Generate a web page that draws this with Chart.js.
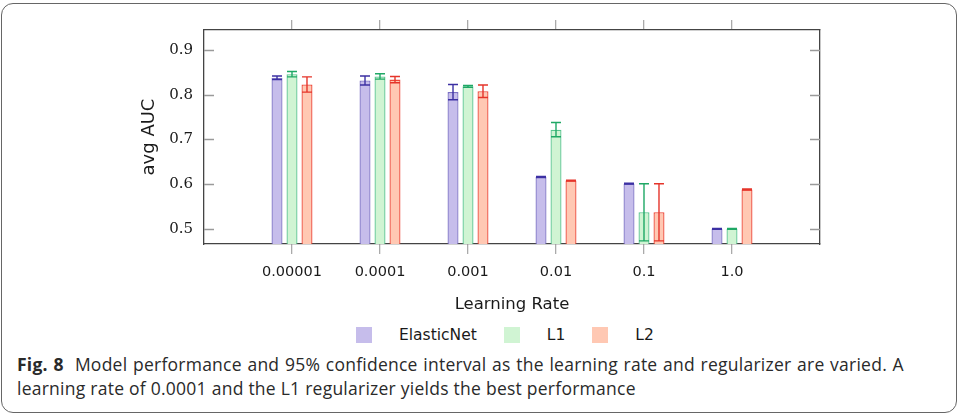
<!DOCTYPE html>
<html>
<head>
<meta charset="utf-8">
<script src="https://cdn.jsdelivr.net/npm/chart.js@4.4.0/dist/chart.umd.min.js"></script>
<style>
  html, body { margin: 0; padding: 0; background: #fff; }
  #wrap { position: relative; width: 959px; height: 414px; overflow: hidden; }
  #frame { position: absolute; left: 1px; top: 3px; width: 956px; height: 410px; box-sizing: border-box;
           border: 1.3px solid #666; border-radius: 12px; }
  #chart { position: absolute; left: 0; top: 0; }
  #legend { position: absolute; left: 356px; top: 326px; height: 18px; display: flex; align-items: center;
            font-family: "DejaVu Sans"; font-size: 15.5px; color: #1a1a1a; }
  #legend .box { width: 16px; height: 16px; display: inline-block; }
  #legend .txt { margin-left: 27px; margin-right: 27px; line-height: 18px; }
  #caption { position: absolute; left: 17px; top: 352px; width: 940px; font-family: "Open Sans";
             font-size: 17.5px; letter-spacing: 0.25px; line-height: 24.4px; color: #2a2a2a; white-space: nowrap; }
  #caption .l1 { word-spacing: 0.8px; }
</style>
</head>
<body>
<div id="wrap">
  <div id="frame"></div>
  <canvas id="chart" width="959" height="320"></canvas>
  <div id="legend"></div>
  <div id="caption"><span class="l1"><b>Fig. 8</b>&nbsp; Model performance and 95% confidence interval as the learning rate and regularizer are varied. A</span><br>learning rate of 0.0001 and the L1 regularizer yields the best performance</div>
</div>
<script>
const categories = ['0.00001', '0.0001', '0.001', '0.01', '0.1', '1.0'];
const seriesNames = ['ElasticNet', 'L1', 'L2'];
const elasticNet = [0.838, 0.832, 0.806, 0.616, 0.601, 0.500];
const elasticNetCI = [0.004, 0.010, 0.017, 0.001, 0.001, 0.001];
const l1 = [0.846, 0.841, 0.819, 0.722, 0.537, 0.500];
const l1CI = [0.006, 0.006, 0.002, 0.016, 0.064, 0.001];
const l2 = [0.823, 0.834, 0.808, 0.608, 0.537, 0.588];
const l2CI = [0.017, 0.007, 0.014, 0.001, 0.064, 0.001];
const yTicks = [0.5, 0.6, 0.7, 0.8, 0.9];

const fills = ['#c6bdeb', '#d0f4d3', '#ffc8b3'];
const borders = ['#7b70c4', '#58c48e', '#ee4738'];
const errColors = ['#3c30a3', '#1fa865', '#e5342a'];

const values = [elasticNet, l1, l2];
const cis = [elasticNetCI, l1CI, l2CI];

const datasets = values.map((vals, s) => ({
  label: seriesNames[s],
  data: vals.map((v, i) => ({ x: i, y: v })),
  ci: cis[s],
  backgroundColor: fills[s],
  borderColor: borders[s],
  borderWidth: 1.3,
  borderSkipped: 'start',
  errColor: errColors[s],
  xAxisID: 'x',
  yAxisID: 'y'
}));

const keepCats = (scale) => {
  scale.ticks = scale.ticks.filter(t => t.value >= 0 && t.value <= categories.length - 1);
};

const errorBars = {
  id: 'errorBars',
  afterDatasetsDraw(chart) {
    const ctx = chart.ctx;
    const ys = chart.scales.y;
    const area = chart.chartArea;
    ctx.save();
    ctx.beginPath();
    ctx.rect(area.left, area.top, area.right - area.left, area.bottom - area.top);
    ctx.clip();
    chart.data.datasets.forEach((ds, di) => {
      const meta = chart.getDatasetMeta(di);
      meta.data.forEach((bar, i) => {
        const v = ds.data[i].y, e = ds.ci[i];
        const yHi = ys.getPixelForValue(v + e);
        const yLo = ys.getPixelForValue(v - e);
        const half = bar.width / 2 - 0.5;
        ctx.strokeStyle = ds.errColor;
        ctx.lineWidth = 1.4;
        ctx.beginPath();
        ctx.moveTo(bar.x, yHi); ctx.lineTo(bar.x, yLo);
        ctx.moveTo(bar.x - half, yHi); ctx.lineTo(bar.x + half, yHi);
        ctx.moveTo(bar.x - half, yLo); ctx.lineTo(bar.x + half, yLo);
        ctx.stroke();
      });
    });
    ctx.restore();
  }
};

const innerTicks = {
  id: 'innerTicks',
  afterDraw(chart) {
    const ctx = chart.ctx;
    const ys = chart.scales.y;
    const a = chart.chartArea;
    ctx.save();
    ctx.strokeStyle = '#9a9a9a';
    ctx.lineWidth = 1.3;
    ys.ticks.forEach(t => {
      const y = Math.round(ys.getPixelForValue(t.value)) + 0.5;
      ctx.beginPath();
      ctx.moveTo(a.left, y); ctx.lineTo(a.left + 10, y);
      ctx.moveTo(a.right - 10, y); ctx.lineTo(a.right, y);
      ctx.stroke();
    });
    ctx.restore();
  }
};

const xCommon = {
  type: 'linear', min: -1, max: categories.length, offset: false, afterBuildTicks: keepCats,
};

new Chart(document.getElementById('chart'), {
  type: 'bar',
  data: { datasets },
  plugins: [errorBars, innerTicks],
  options: {
    responsive: false,
    animation: false,
    events: [],
    layout: { padding: { left: 135, right: 139, top: 0, bottom: 0 } },
    datasets: { bar: { categoryPercentage: 0.511, barPercentage: 0.733, grouped: true } },
    plugins: { legend: { display: false }, tooltip: { enabled: false } },
    scales: {
      x: Object.assign({}, xCommon, {
        position: 'bottom',
        afterFit: s => { s.height = 76; },
        grid: { display: true, offset: false, drawOnChartArea: false, drawTicks: true, tickLength: 10, color: '#aaaaaa', lineWidth: 1.3 },
        border: { display: true, color: '#444', width: 1.3 },
        ticks: { stepSize: 1, autoSkip: false, maxRotation: 0, padding: 10, color: '#1a1a1a',
                 font: { family: 'DejaVu Sans', size: 14.5 },
                 callback: v => categories[v] ?? '' },
        title: { display: true, text: 'Learning Rate', color: '#1a1a1a',
                 font: { family: 'DejaVu Sans', size: 16.5 }, padding: { top: 0, bottom: 5 } }
      }),
      xTop: Object.assign({}, xCommon, {
        position: 'top',
        afterFit: s => { s.height = 30; },
        grid: { display: true, offset: false, drawOnChartArea: false, drawTicks: true, tickLength: 10, color: '#aaaaaa', lineWidth: 1.3 },
        border: { display: true, color: '#444', width: 1.3 },
        ticks: { stepSize: 1, autoSkip: false, display: false }
      }),
      y: {
        type: 'linear', position: 'left', min: 0.466, max: 0.945,
        afterFit: s => { s.width = 69; },
        afterBuildTicks: s => { s.ticks = yTicks.map(v => ({ value: v })); },
        grid: { display: true, drawOnChartArea: false, drawTicks: false },
        border: { display: true, color: '#444', width: 1.3 },
        ticks: { padding: 11, color: '#1a1a1a', font: { family: 'DejaVu Serif', size: 15 },
                 callback: v => Number(v).toFixed(1) },
        title: { display: true, text: 'avg AUC', color: '#1a1a1a',
                 font: { family: 'DejaVu Sans', size: 18 }, padding: { top: 4, bottom: 4 } }
      },
      yRight: {
        type: 'linear', position: 'right', min: 0.466, max: 0.945,
        afterFit: s => { s.width = 0; },
        grid: { display: true, drawOnChartArea: false, drawTicks: false },
        border: { display: true, color: '#444', width: 1.3 },
        ticks: { display: false }
      }
    }
  }
});

const legend = document.getElementById('legend');
seriesNames.forEach((name, s) => {
  const box = document.createElement('span');
  box.className = 'box';
  box.style.background = fills[s];
  const txt = document.createElement('span');
  txt.className = 'txt';
  txt.textContent = name;
  legend.appendChild(box);
  legend.appendChild(txt);
});
</script>
</body>
</html>
